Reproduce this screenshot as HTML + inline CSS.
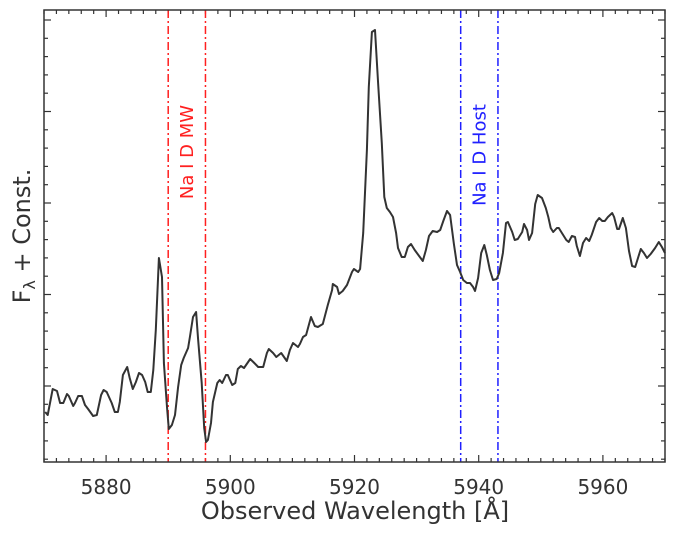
<!DOCTYPE html>
<html><head><meta charset="utf-8"><style>
body{margin:0;background:#fff}
svg{display:block;font-family:"DejaVu Sans","Liberation Sans",sans-serif}
</style></head><body>
<svg id="chart" width="675" height="534"></svg>
<script>
const wavelengths=[5870.2,5870.6,5871.4,5872.1,5872.6,5873.1,5873.7,5874.0,5874.7,5875.0,5875.5,5876.1,5876.6,5877.1,5877.9,5878.5,5879.2,5879.6,5880.1,5880.9,5881.4,5881.9,5882.2,5882.7,5883.4,5883.8,5884.3,5884.8,5885.3,5885.8,5886.3,5886.7,5887.2,5887.6,5888.0,5888.5,5889.0,5889.3,5889.8,5890.1,5890.6,5891.1,5891.6,5892.1,5892.5,5893.2,5893.5,5894.0,5894.5,5894.8,5895.4,5895.8,5896.1,5896.4,5896.9,5897.2,5897.9,5898.3,5898.7,5899.3,5899.6,5900.3,5900.8,5901.2,5901.7,5902.2,5903.2,5903.7,5904.5,5905.3,5905.9,5906.2,5906.9,5907.4,5908.2,5909.1,5909.6,5910.1,5910.9,5911.2,5911.7,5912.2,5913.0,5913.6,5914.1,5914.9,5915.7,5916.4,5916.5,5917.2,5917.5,5918.1,5918.8,5919.6,5919.9,5920.6,5920.9,5921.4,5922.0,5922.3,5922.8,5923.3,5923.8,5924.4,5924.8,5925.2,5925.7,5926.2,5926.7,5927.0,5927.6,5928.1,5928.6,5929.1,5929.7,5930.4,5931.0,5931.5,5932.0,5932.6,5933.3,5933.8,5934.3,5934.9,5935.4,5936.0,5936.5,5937.0,5937.5,5938.1,5938.6,5939.1,5939.4,5939.9,5940.4,5940.9,5941.3,5941.8,5942.3,5942.9,5943.3,5943.9,5944.4,5944.7,5945.4,5945.8,5946.3,5947.0,5947.3,5947.8,5948.1,5948.6,5949.1,5949.5,5950.2,5950.8,5951.2,5951.6,5952.0,5952.6,5952.9,5953.4,5954.1,5954.5,5955.0,5955.5,5955.8,5956.3,5956.8,5957.3,5957.8,5958.2,5958.9,5959.4,5959.9,5960.3,5960.8,5961.5,5961.8,5962.3,5962.6,5963.2,5963.7,5964.2,5964.7,5965.2,5965.7,5966.1,5966.6,5967.1,5967.7,5968.4,5969.0,5969.5,5970.0];
const flux=[50,47,73,71,59,59,68,66,56,59,66,66,57,53,46,47,67,72,70,59,50,50,60,87,95,84,73,80,89,87,80,70,70,92,132,204,185,99,55,33,37,47,75,97,104,114,125,145,150,124,79,34,20,22,39,60,79,82,79,87,87,77,79,93,96,94,103,100,95,95,109,113,109,105,109,101,112,119,115,118,125,127,145,136,135,138,157,172,178,175,168,171,177,190,193,190,193,229,312,375,430,432,379,319,265,254,250,245,229,214,205,205,215,218,212,206,201,212,226,231,230,232,241,251,247,218,197,190,182,179,179,175,171,184,209,217,207,192,182,183,189,209,239,240,230,222,223,230,238,232,222,229,258,267,264,254,245,234,230,234,234,229,222,220,226,225,216,206,219,224,221,227,240,244,241,241,245,249,245,233,233,244,234,211,196,195,205,213,209,204,208,214,220,215,209];
const xTicks=[5880,5900,5920,5940,5960];
const naMW=[5890.0,5896.0];
const naHost=[5937.1,5943.1];
const NS="http://www.w3.org/2000/svg";
const svg=document.getElementById('chart');
const L=44,R=665,T=10,B=462;
const xMin=5870,xMax=5970,yMin=0,yMax=452;
const sx=w=>L+(w-xMin)/(xMax-xMin)*(R-L);
const sy=f=>B-(f-yMin)/(yMax-yMin)*(B-T);
function mk(tag,attrs){const e=document.createElementNS(NS,tag);for(const k in attrs)e.setAttribute(k,attrs[k]);svg.appendChild(e);return e;}
for(let w=xMin;w<=xMax;w+=2){
  const major=(w-5880)%20===0;const len=major?7:4;
  const t1=mk('line',{x1:sx(w),x2:sx(w),y1:B,y2:B-len,stroke:'#333','stroke-width':1.2});
  
  
  const t2=mk('line',{x1:sx(w),x2:sx(w),y1:T,y2:T+len,stroke:'#333','stroke-width':1.2});
  
  
}
for(let i=-4;i<=22;i++){
  const f=76+i*18.3;if(f<yMin||f>yMax)continue;
  const major=i%5===0;const len=major?7:4;
  const t1=mk('line',{x1:L,x2:L+len,y1:sy(f),y2:sy(f),stroke:'#333','stroke-width':1.2});
  
  
  const t2=mk('line',{x1:R,x2:R-len,y1:sy(f),y2:sy(f),stroke:'#333','stroke-width':1.2});
  
  
}
xTicks.forEach(w=>{
  const t=mk('text',{x:sx(w),y:494,'text-anchor':'middle','font-size':20,fill:'#333'});
  t.textContent=w;
  
  
});
naMW.forEach(w=>{
  const l=mk('line',{x1:sx(w),x2:sx(w),y1:T,y2:B,stroke:'#ff2020','stroke-width':1.5,'stroke-dasharray':'8,3,2,3'});
  
  
});
naHost.forEach(w=>{
  const l=mk('line',{x1:sx(w),x2:sx(w),y1:T,y2:B,stroke:'#2020ff','stroke-width':1.5,'stroke-dasharray':'8,3,2,3'});
  
  
});
let d='';wavelengths.forEach((w,i)=>{d+=(i?'L':'M')+sx(w).toFixed(1)+','+sy(flux[i]).toFixed(1);});
const p=mk('path',{d:d,fill:'none',stroke:'#333','stroke-width':2,'stroke-linejoin':'round'});


const fr=mk('rect',{x:L,y:T,width:R-L,height:B-T,fill:'none',stroke:'#333','stroke-width':1.5});


const a=mk('text',{x:0,y:0,transform:'translate('+(sx(5893)+6)+',152) rotate(-90)','text-anchor':'middle','font-size':18,fill:'#ff2020'});
a.textContent='Na I D MW';


const b=mk('text',{x:0,y:0,transform:'translate('+(sx(5940.1)+6)+',155) rotate(-90)','text-anchor':'middle','font-size':18,fill:'#2020ff'});
b.textContent='Na I D Host';


const xt=mk('text',{x:355,y:519,'text-anchor':'middle','font-size':24,fill:'#333'});
xt.textContent='Observed Wavelength [Å]';


const yt=mk('text',{x:0,y:0,transform:'translate(30,236) rotate(-90)','text-anchor':'middle','font-size':24,fill:'#333'});
yt.innerHTML='F<tspan font-size="16" dy="5">λ</tspan><tspan dy="-5"> + Const.</tspan>';


</script>
</body></html>
